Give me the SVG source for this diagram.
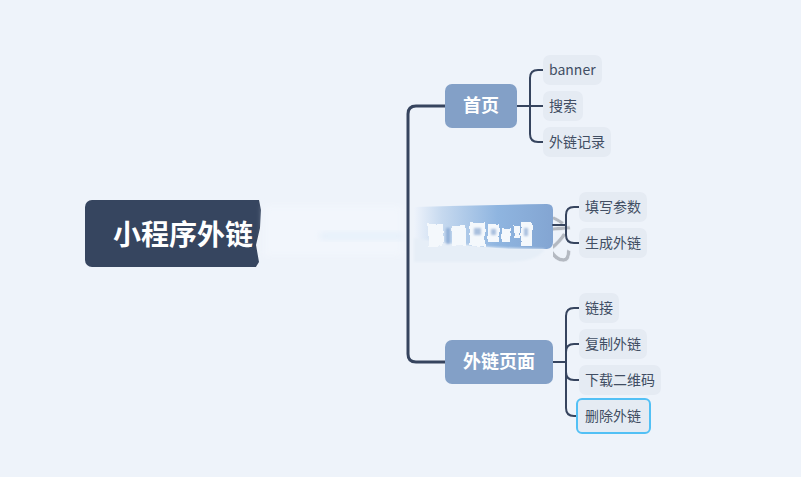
<svg xmlns="http://www.w3.org/2000/svg" width="801" height="477" viewBox="0 0 801 477">
<style>
.leaf{fill:#e5ebf3}
.lt{font:14px "Noto Sans CJK SC","Noto Sans",sans-serif;fill:#414e63}
.br{fill:#83a0c7}
.bt{font:bold 18px "Noto Sans CJK SC",sans-serif;fill:#fff;text-anchor:middle}
.c{fill:none;stroke:#36445e;stroke-linecap:round}
</style>
<defs>
<linearGradient id="bl" x1="0" x2="1" y1="0" y2="0">
<stop offset="0" stop-color="#eef3fb"/><stop offset=".2" stop-color="#c6d9ef"/><stop offset=".6" stop-color="#8fb5e0"/><stop offset="1" stop-color="#83a5d2"/>
</linearGradient>
<filter id="b1" x="-20%" y="-20%" width="140%" height="140%"><feGaussianBlur stdDeviation="1"/></filter>
<filter id="b3" x="-10%" y="-20%" width="120%" height="140%"><feGaussianBlur stdDeviation="3"/></filter>
<filter id="rough" x="-10%" y="-10%" width="120%" height="120%"><feTurbulence type="fractalNoise" baseFrequency=".12" numOctaves="2" seed="4"/><feDisplacementMap in="SourceGraphic" scale="5"/><feGaussianBlur stdDeviation=".6"/></filter>
<clipPath id="rc"><path d="M85 195H258L261 210L260 228L256 245L259 262L254 270H85Z"/></clipPath>
<clipPath id="gc"><rect x="553" y="205" width="30" height="65"/></clipPath>
</defs>
<rect width="801" height="477" fill="#eef3fa"/>
<g id="root">
<rect x="85" y="200" width="190" height="67" rx="7" fill="#36455f" clip-path="url(#rc)"/>
<text x="113" y="245" clip-path="url(#rc)" style="font:bold 28px 'Noto Sans CJK SC',sans-serif;fill:#fff">小程序外链</text>
</g>
<g id="smear">
<rect x="264" y="206" width="138" height="50" fill="#f2f6fc" filter="url(#b3)"/>
<rect x="320" y="232" width="84" height="8" fill="#e6f0fa" filter="url(#b3)"/>
</g>
<g id="node-blue">
<text x="523" y="258" clip-path="url(#gc)" stroke="#eef3fa" stroke-width=".5" style="font:50px 'Noto Sans CJK SC',sans-serif;fill:#b4b9c1">戈</text>
<path d="M414 207Q480 205 547 204Q553 204 553 210V242Q553 248 547 249L510 249Q460 246 414 240Z" fill="url(#bl)"/>
<path d="M414 238Q470 248 545 249Q538 262 505 262H414Z" fill="#e6eef7" filter="url(#b1)"/>
<g fill="#f4f8fc" filter="url(#rough)">
<rect x="428" y="224" width="15" height="23"/><rect x="452" y="226" width="14" height="20"/>
<rect x="470" y="222" width="15" height="24"/><rect x="488" y="224" width="11" height="18"/><rect x="502" y="228" width="9" height="14"/><rect x="514" y="226" width="6" height="12"/><rect x="521" y="222" width="11" height="24"/>
</g>
<g fill="#6d93c6" opacity=".55" filter="url(#b1)">
<rect x="446" y="228" width="4" height="16"/><rect x="474" y="228" width="7" height="7"/><rect x="491" y="229" width="5" height="6"/><rect x="524" y="228" width="4" height="8"/>
</g>
</g>
<g id="connectors">
<path class="c" stroke-width="3" d="M445 106H416Q408 106 408 114V354Q408 362 416 362H445"/>
<path class="c" stroke-width="2" d="M517 106H530M543 70H538Q530 70 530 78V134Q530 142 538 142H543M530 106H543"/>
<path class="c" stroke-width="2" d="M553 225H566M579 207H574Q566 207 566 215V235Q566 243 574 243H579"/>
<path class="c" stroke-width="2" d="M553 362H566M579 308H574Q566 308 566 316V408Q566 416 574 416H579M566 352Q566 344 574 344H579M566 372Q566 380 574 380H579"/>
</g>
<g id="n-home"><rect class="br" x="445" y="84" width="72" height="44" rx="7"/><text class="bt" x="481" y="112">首页</text></g>
<g id="n-banner"><rect class="leaf" x="543" y="55" width="59" height="30" rx="7"/><text class="lt" x="549" y="75">banner</text></g>
<g id="n-search"><rect class="leaf" x="543" y="91" width="40" height="30" rx="7"/><text class="lt" x="549" y="111">搜索</text></g>
<g id="n-record"><rect class="leaf" x="543" y="127" width="68" height="30" rx="7"/><text class="lt" x="549" y="147">外链记录</text></g>
<g id="n-fill"><rect class="leaf" x="579" y="192" width="68" height="30" rx="7"/><text class="lt" x="585" y="212">填写参数</text></g>
<g id="n-gen"><rect class="leaf" x="579" y="228" width="68" height="30" rx="7"/><text class="lt" x="585" y="248">生成外链</text></g>
<g id="n-page"><rect class="br" x="445" y="340" width="108" height="44" rx="7"/><text class="bt" x="499" y="368">外链页面</text></g>
<g id="n-link"><rect class="leaf" x="579" y="293" width="40" height="30" rx="7"/><text class="lt" x="585" y="313">链接</text></g>
<g id="n-copy"><rect class="leaf" x="579" y="329" width="68" height="30" rx="7"/><text class="lt" x="585" y="349">复制外链</text></g>
<g id="n-qr"><rect class="leaf" x="579" y="365" width="82" height="30" rx="7"/><text class="lt" x="585" y="385">下载二维码</text></g>
<g id="n-del"><rect class="leaf" x="577" y="399" width="73" height="34" rx="5" stroke="#52c0f5" stroke-width="2"/><text class="lt" x="585" y="421">删除外链</text></g>
</svg>
